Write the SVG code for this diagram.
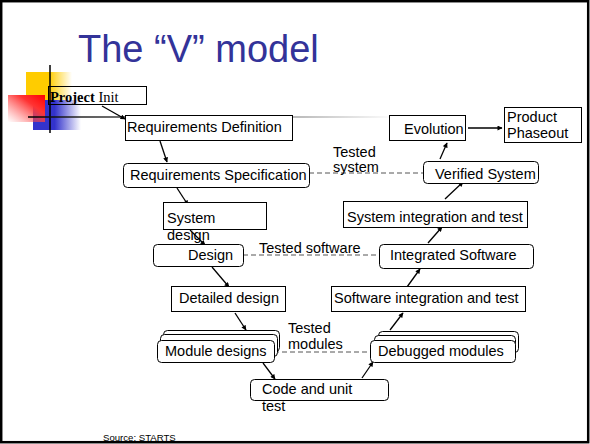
<svg xmlns="http://www.w3.org/2000/svg" width="590" height="444" viewBox="0 0 590 444">
  <defs>
    <linearGradient id="gYellow" x1="0" y1="0" x2="1" y2="0">
      <stop offset="0" stop-color="#ffcc00"/>
      <stop offset="0.5" stop-color="#ffcc00"/>
      <stop offset="1" stop-color="#ffcc00" stop-opacity="0"/>
    </linearGradient>
    <linearGradient id="gBlue" x1="0" y1="0" x2="1" y2="0">
      <stop offset="0" stop-color="#3333cc"/>
      <stop offset="0.45" stop-color="#3333cc"/>
      <stop offset="1" stop-color="#3333cc" stop-opacity="0"/>
    </linearGradient>
    <linearGradient id="gRed" x1="1" y1="0" x2="0" y2="1">
      <stop offset="0" stop-color="#ff0000"/>
      <stop offset="0.35" stop-color="#ff3333"/>
      <stop offset="1" stop-color="#ff6666" stop-opacity="0"/>
    </linearGradient>
    <linearGradient id="gRule" gradientUnits="userSpaceOnUse" x1="28" y1="0" x2="395" y2="0">
      <stop offset="0" stop-color="#000"/>
      <stop offset="0.27" stop-color="#444"/>
      <stop offset="0.75" stop-color="#aaa"/>
      <stop offset="1" stop-color="#fff"/>
    </linearGradient>
    <marker id="ah" viewBox="0 0 10 10" refX="9" refY="5" markerWidth="6" markerHeight="5" markerUnits="userSpaceOnUse" orient="auto">
      <path d="M0,0 L10,5 L0,10 z" fill="#000"/>
    </marker>
  </defs>
  <style>
    .box { fill: #fff; stroke: #000; stroke-width: 1; }
    .lbl { font-family: "Liberation Sans", Arial, sans-serif; font-size: 14.5px; fill: #000; }
    .arrow { stroke: #000; stroke-width: 1.3; fill: none; marker-end: url(#ah); }
    .dash { stroke: #555; stroke-width: 1; stroke-dasharray: 5 3; fill: none; }
  </style>

  <!-- slide background and frame -->
  <rect x="0" y="0" width="590" height="444" fill="#fff"/>
  <rect x="1.2" y="1.2" width="587" height="441" fill="none" stroke="#000" stroke-width="2.5"/>

  <!-- template ornament -->
  <g id="ornament">
    <rect x="26" y="72" width="46" height="28" fill="url(#gYellow)"/>
    <rect x="33" y="100" width="48" height="30" fill="url(#gBlue)"/>
    <rect x="8" y="95" width="37" height="27" fill="url(#gRed)"/>
    <line x1="50" y1="65" x2="50" y2="133" stroke="#000" stroke-width="1.5"/>
    <line x1="28" y1="117" x2="395" y2="117" stroke="url(#gRule)" stroke-width="1.5"/>
  </g>

  <text x="78" y="62" font-family="Liberation Sans, Arial, sans-serif" font-size="38" fill="#333399">The “V” model</text>

  <!-- connectors -->
  <g id="connectors">
    <line class="arrow" x1="102" y1="106" x2="125" y2="119"/>
    <line class="arrow" x1="160" y1="141" x2="167" y2="162"/>
    <line class="arrow" x1="177" y1="188" x2="188" y2="205"/>
    <line class="arrow" x1="190" y1="230" x2="205" y2="245"/>
    <line class="arrow" x1="212" y1="267" x2="229" y2="287"/>
    <line class="arrow" x1="235" y1="313" x2="246" y2="330"/>
    <line class="arrow" x1="263" y1="363" x2="275" y2="379"/>
    <line class="arrow" x1="362" y1="378" x2="373" y2="362"/>
    <line class="arrow" x1="390" y1="330" x2="403" y2="313"/>
    <line class="arrow" x1="407" y1="287" x2="420" y2="269"/>
    <line class="arrow" x1="428" y1="243" x2="442" y2="227"/>
    <line class="arrow" x1="445" y1="199" x2="463" y2="182"/>
    <line class="arrow" x1="440" y1="159" x2="447" y2="143"/>
    <line class="arrow" x1="468" y1="128" x2="502" y2="128"/>
    <line class="dash" x1="309" y1="173" x2="423" y2="173"/>
    <line class="dash" x1="243" y1="255" x2="379" y2="255"/>
    <line class="dash" x1="274" y1="352" x2="370" y2="352"/>
  </g>

  <!-- dashed-link labels -->
  <g id="link-labels" class="lbl">
    <text x="333" y="157">Tested</text>
    <text x="333" y="172">system</text>
    <text x="259" y="253">Tested software</text>
    <text x="288" y="333">Tested</text>
    <text x="288" y="349">modules</text>
  </g>

  <!-- nodes -->
  <g id="project-init">
    <rect x="48.5" y="86.5" width="98" height="18" fill="none" stroke="#000" stroke-width="1"/>
    <text x="50" y="102" font-family="Liberation Serif, Times New Roman, serif" font-size="14.5"><tspan font-weight="bold">Project</tspan> Init</text>
  </g>
  <g id="requirements-definition">
    <rect class="box" x="125.5" y="115.5" width="167" height="25"/>
    <text class="lbl" x="127" y="131.5">Requirements Definition</text>
  </g>
  <g id="requirements-specification">
    <rect class="box" x="123.5" y="163.5" width="186" height="24" rx="4"/>
    <text class="lbl" x="130" y="180">Requirements Specification</text>
  </g>
  <g id="system-design">
    <rect class="box" x="163.5" y="202.5" width="103" height="27"/>
    <text class="lbl" x="167" y="223">System</text>
    <text class="lbl" x="167" y="240">design</text>
  </g>
  <g id="design">
    <rect class="box" x="153.5" y="244.5" width="90" height="22" rx="4"/>
    <text class="lbl" x="188" y="260">Design</text>
  </g>
  <g id="detailed-design">
    <rect class="box" x="171.5" y="286.5" width="114" height="25"/>
    <text class="lbl" x="179" y="303">Detailed design</text>
  </g>
  <g id="module-designs">
    <rect class="box" x="163.5" y="330.5" width="116" height="21" rx="4"/>
    <rect class="box" x="160.5" y="334.5" width="117" height="22" rx="4"/>
    <rect class="box" x="157.5" y="340.5" width="117" height="22" rx="4"/>
    <text class="lbl" x="165" y="356">Module designs</text>
  </g>
  <g id="code-and-unit-test">
    <rect class="box" x="250.5" y="379.5" width="138" height="21" rx="4"/>
    <text class="lbl" x="262" y="394">Code and unit</text>
    <text class="lbl" x="262" y="411">test</text>
  </g>
  <g id="debugged-modules">
    <rect class="box" x="378.5" y="331.5" width="140" height="21" rx="4"/>
    <rect class="box" x="374.5" y="335.5" width="141" height="22" rx="4"/>
    <rect class="box" x="370.5" y="340.5" width="145" height="22" rx="4"/>
    <text class="lbl" x="378" y="356">Debugged modules</text>
  </g>
  <g id="software-integration">
    <rect class="box" x="331.5" y="286.5" width="194" height="25"/>
    <text class="lbl" x="334" y="303">Software integration and test</text>
  </g>
  <g id="integrated-software">
    <rect class="box" x="379.5" y="244.5" width="154" height="24" rx="4"/>
    <text class="lbl" x="390" y="260">Integrated Software</text>
  </g>
  <g id="system-integration">
    <rect class="box" x="343.5" y="201.5" width="184" height="26"/>
    <text class="lbl" x="347" y="222">System integration and test</text>
  </g>
  <g id="verified-system">
    <rect class="box" x="423.5" y="161.5" width="115" height="22" rx="4"/>
    <text class="lbl" x="435" y="179">Verified System</text>
  </g>
  <g id="evolution">
    <rect class="box" x="389.5" y="115.5" width="76" height="25"/>
    <text class="lbl" x="404" y="134">Evolution</text>
  </g>
  <g id="product-phaseout">
    <rect class="box" x="504.5" y="107.5" width="77" height="35"/>
    <text class="lbl" x="507" y="122">Product</text>
    <text class="lbl" x="507" y="138">Phaseout</text>
  </g>

  <text x="103" y="441" font-family="Liberation Sans, Arial, sans-serif" font-size="9.6" fill="#000">Source: STARTS</text>
</svg>
